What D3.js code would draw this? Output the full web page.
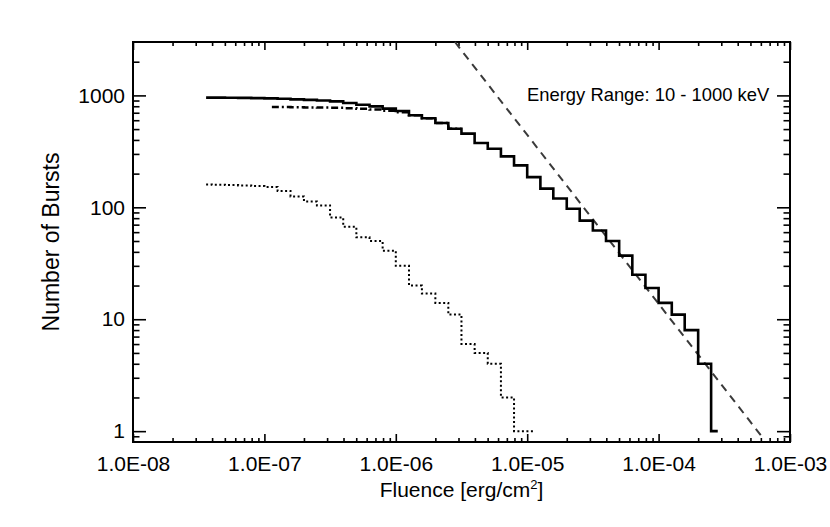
<!DOCTYPE html>
<html><head><meta charset="utf-8">
<script src="https://cdn.jsdelivr.net/npm/d3@7"></script>
<style>
body{margin:0;background:#fff}
text{font-family:"Liberation Sans",Arial,Helvetica,sans-serif;fill:#000}
</style>
</head><body><svg id="c" width="830" height="527"></svg>
<script>
// ---- data ----
const xTickValues = [1e-8, 1e-7, 1e-6, 1e-5, 1e-4, 1e-3];
const xTickLabels = ["1.0E-08", "1.0E-07", "1.0E-06", "1.0E-05", "1.0E-04", "1.0E-03"];
const yTickValues = [1, 10, 100, 1000];
const yTickLabels = ["1", "10", "100", "1000"];

// total sample (solid)
const totalFluence = [3.6e-8, 3.98e-8, 5.01e-8, 6.31e-8, 7.94e-8,
  1.0e-7, 1.26e-7, 1.58e-7, 2.0e-7, 2.51e-7, 3.16e-7, 3.98e-7, 5.01e-7, 6.31e-7, 7.94e-7,
  1.0e-6, 1.26e-6, 1.58e-6, 2.0e-6, 2.51e-6, 3.16e-6, 3.98e-6, 5.01e-6, 6.31e-6, 7.94e-6,
  1.0e-5, 1.26e-5, 1.58e-5, 2.0e-5, 2.51e-5, 3.16e-5, 3.98e-5, 5.01e-5, 6.31e-5, 7.94e-5,
  1.0e-4, 1.26e-4, 1.58e-4, 2.0e-4, 2.51e-4, 2.82e-4];
const totalCount = [956, 955, 953, 950, 946,
  940, 932, 922, 912, 900, 885, 855, 826, 798, 762,
  725, 665, 625, 566, 504, 455, 375, 334, 285, 237,
  186, 147, 120, 97, 76, 62, 50, 37, 25, 19,
  14, 11, 8, 4, 1, 1];

// dash-dot sample
const dashDotFluence = [1.14e-7, 1.26e-7, 1.58e-7, 2.0e-7, 2.51e-7, 3.16e-7, 3.98e-7, 5.01e-7, 6.31e-7, 7.94e-7,
  1.0e-6, 1.26e-6, 1.58e-6, 2.0e-6, 2.51e-6, 3.16e-6];
const dashDotCount = [787, 786, 784, 781, 778, 775, 768, 758, 748, 730,
  708, 665, 625, 566, 504, 504];

// dotted sample
const dottedFluence = [3.6e-8, 3.98e-8, 5.01e-8, 6.31e-8, 7.94e-8,
  1.0e-7, 1.26e-7, 1.58e-7, 2.0e-7, 2.51e-7, 3.16e-7, 3.98e-7, 5.01e-7, 6.31e-7, 7.94e-7,
  1.0e-6, 1.26e-6, 1.58e-6, 2.0e-6, 2.51e-6, 3.16e-6, 3.98e-6, 5.01e-6, 6.31e-6, 7.94e-6,
  1.15e-5];
const dottedCount = [160, 159, 158, 157, 155,
  152, 140, 125, 113, 104, 81, 67, 54, 50, 41,
  30, 20, 17, 14, 11, 6, 5, 4, 2, 1,
  1];

// power-law reference (dashed)
const powerLawFluence = [2.82e-6, 6.24e-4];
const powerLawCount = [3000, 0.866];

// ---- drawing ----
const W = 830, H = 527;
const margin = {left: 133, right: 40, top: 42, bottom: 85};
const x0 = margin.left, x1 = W - margin.right, y0 = margin.top, y1 = H - margin.bottom;

const svg = d3.select("#c");
const x = d3.scaleLog().domain([1e-8, 1e-3]).range([x0, x1]);
const y = d3.scaleLog().domain([0.8, 3000]).range([y1, y0]);

const isMajor = (v) => Math.abs(Math.log10(v) - Math.round(Math.log10(v))) < 1e-9;
const xMinor = x.ticks().filter(v => !isMajor(v));
const yMinor = y.ticks().filter(v => !isMajor(v) && v > 0.81 && v < 2990);

function styleAxis(g) {
  g.select(".domain").remove();
  g.selectAll("line").attr("stroke", "#000").attr("stroke-width", 1.6);
  g.selectAll("text").style("font-size", "21px").attr("fill", "#000").attr("font-family", null);
}

// bottom
svg.append("g").attr("transform", `translate(0,${y1})`)
  .call(d3.axisBottom(x).tickValues(xTickValues).tickSize(-8).tickPadding(14)
    .tickFormat((d, i) => xTickLabels[i]))
  .call(styleAxis);
svg.append("g").attr("transform", `translate(0,${y1})`)
  .call(d3.axisBottom(x).tickValues(xMinor).tickSize(-4).tickFormat(""))
  .call(styleAxis);
// top
svg.append("g").attr("transform", `translate(0,${y0})`)
  .call(d3.axisTop(x).tickValues(xTickValues).tickSize(-8).tickFormat(""))
  .call(styleAxis);
svg.append("g").attr("transform", `translate(0,${y0})`)
  .call(d3.axisTop(x).tickValues(xMinor).tickSize(-4).tickFormat(""))
  .call(styleAxis);
// left
svg.append("g").attr("transform", `translate(${x0},0)`)
  .call(d3.axisLeft(y).tickValues(yTickValues).tickSize(-13).tickPadding(8)
    .tickFormat((d, i) => yTickLabels[i]))
  .call(styleAxis);
svg.append("g").attr("transform", `translate(${x0},0)`)
  .call(d3.axisLeft(y).tickValues(yMinor).tickSize(-6.5).tickFormat(""))
  .call(styleAxis);
// right
svg.append("g").attr("transform", `translate(${x1},0)`)
  .call(d3.axisRight(y).tickValues(yTickValues).tickSize(-13).tickFormat(""))
  .call(styleAxis);
svg.append("g").attr("transform", `translate(${x1},0)`)
  .call(d3.axisRight(y).tickValues(yMinor).tickSize(-6.5).tickFormat(""))
  .call(styleAxis);

// frame
svg.append("rect").attr("x", x0).attr("y", y0).attr("width", x1 - x0).attr("height", y1 - y0)
  .attr("fill", "none").attr("stroke", "#000").attr("stroke-width", 2);

// series
const step = (xs, ys) => d3.line().x((d, i) => x(xs[i])).y((d, i) => y(ys[i])).curve(d3.curveStepAfter)(xs);

svg.append("path").attr("d", d3.line().x((d, i) => x(powerLawFluence[i])).y((d, i) => y(powerLawCount[i]))(powerLawFluence))
  .attr("fill", "none").attr("stroke", "#3a3a3a").attr("stroke-width", 2).attr("stroke-dasharray", "8,6");

svg.append("path").attr("d", step(dottedFluence, dottedCount))
  .attr("fill", "none").attr("stroke", "#000").attr("stroke-width", 2).attr("stroke-dasharray", "2,2.5");

svg.append("path").attr("d", step(dashDotFluence, dashDotCount))
  .attr("fill", "none").attr("stroke", "#000").attr("stroke-width", 2.5).attr("stroke-dasharray", "7,3,2,3");

svg.append("path").attr("d", step(totalFluence, totalCount))
  .attr("fill", "none").attr("stroke", "#000").attr("stroke-width", 2.6);

// annotation
svg.append("text").attr("x", 527).attr("y", 101).style("font-size", "18.4px")
  .text("Energy Range: 10 - 1000 keV");

// axis titles
const xt = svg.append("text").attr("x", (x0 + x1) / 2).attr("y", 497).attr("text-anchor", "middle")
  .style("font-size", "21px");
xt.append("tspan").text("Fluence [erg/cm");
xt.append("tspan").attr("dy", "-8").style("font-size", "13px").text("2");
xt.append("tspan").attr("dy", "8").text("]");

svg.append("text").attr("transform", `translate(59,${(y0 + y1) / 2}) rotate(-90)`)
  .attr("text-anchor", "middle").style("font-size", "23px").text("Number of Bursts");
</script>
</body></html>
